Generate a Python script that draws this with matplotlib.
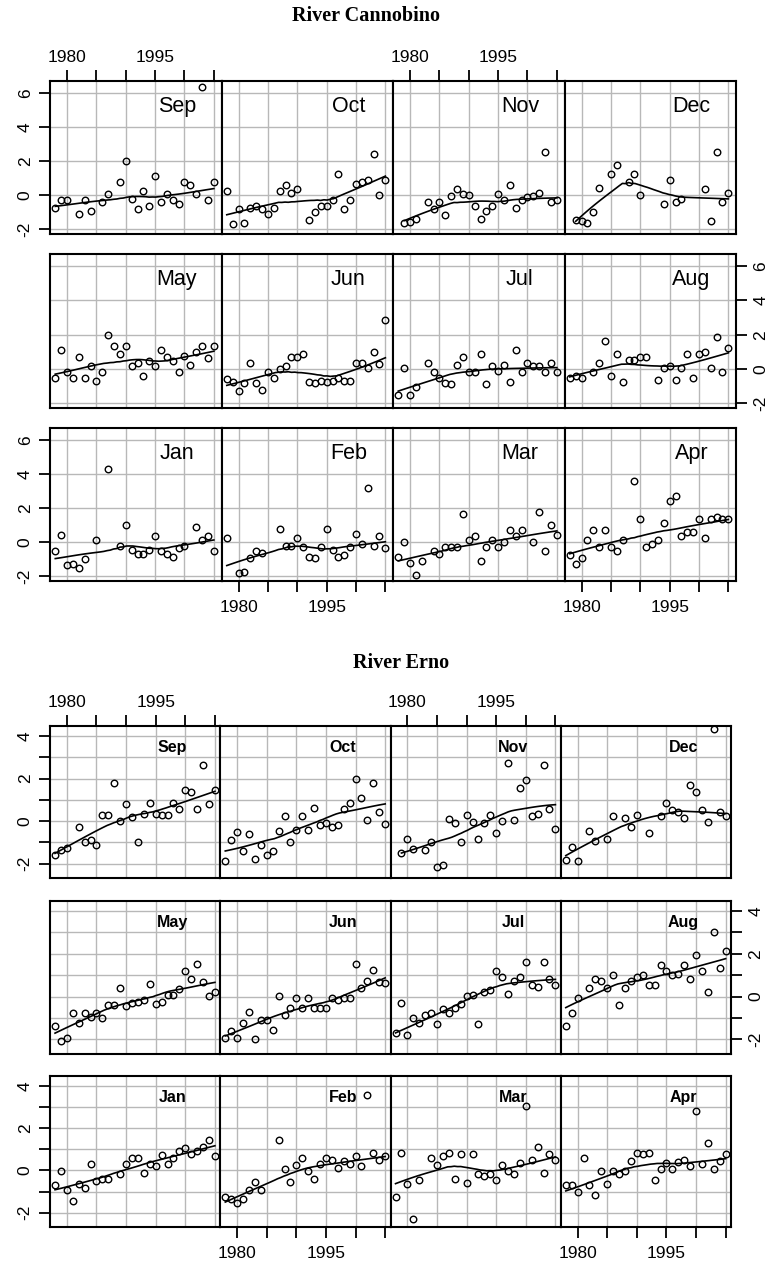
import numpy as np
import matplotlib
matplotlib.use("Agg")
import matplotlib.pyplot as plt

plt.rcParams['font.family'] = ['Liberation Sans', 'DejaVu Sans']

# years shared by every panel; None = no point visible for that year
YEARS = list(range(1978, 2006))
MONTH_ROWS = [["Sep", "Oct", "Nov", "Dec"],
              ["May", "Jun", "Jul", "Aug"],
              ["Jan", "Feb", "Mar", "Apr"]]

# ---- River Cannobino ----
can_sep = [-0.72, -0.3, -0.3, None, -1.07, -0.3, -0.93, None, -0.39, 0.06, None, 0.78, 2.0, -0.23,
           -0.82, 0.23, -0.64, 1.13, -0.41, 0.06, -0.3, -0.49, 0.78, 0.58, 0.06, 6.35, -0.3, 0.78]
can_oct = [0.25, -1.71, -0.83, -1.61, -0.72, -0.62, -0.83, -1.07, -0.72, 0.25, 0.62, 0.14, 0.35, None,
           -1.45, -0.97, -0.64, -0.64, -0.3, 1.22, -0.83, -0.3, 0.68, 0.78, 0.91, 2.43, 0.04, 0.91]
can_nov = [None, -1.65, -1.55, -1.4, None, -0.39, -0.83, -0.39, -1.13, -0.06, 0.39, 0.1, 0.04, -0.62,
           -1.4, -0.95, -0.62, 0.1, -0.3, 0.62, -0.72, -0.3, -0.1, -0.06, 0.14, 2.52, -0.39, -0.3]
can_dec = [None, -1.46, -1.5, -1.6, -0.97, 0.45, None, 1.22, 1.79, None, 0.78, 1.22, 0.04, None,
           None, None, -0.52, 0.91, -0.39, -0.19, None, None, None, 0.35, -1.5, 2.52, -0.39, 0.14]
can_may = [-0.52, 1.11, -0.19, -0.52, 0.68, -0.52, 0.16, -0.68, -0.19, 1.98, 1.32, 0.87, 1.32, 0.16,
           0.35, -0.43, 0.49, 0.19, 1.11, 0.72, 0.49, -0.19, 0.78, 0.25, 1.01, 1.32, 0.64, 1.32]
can_jun = [-0.58, -0.74, -1.3, -0.82, 0.35, -0.82, -1.2, -0.19, -0.52, 0.0, 0.16, 0.68, 0.68, 0.87,
           -0.74, -0.82, -0.68, -0.74, -0.68, -0.54, -0.68, -0.68, 0.35, 0.35, 0.04, 1.01, 0.29, 2.85]
can_jul = [-1.51, 0.04, -1.51, -1.07, None, 0.35, -0.19, -0.52, -0.82, -0.87, 0.23, 0.68, -0.19, -0.19,
           0.87, -0.87, 0.16, -0.14, 0.25, -0.74, 1.11, -0.19, 0.35, 0.16, 0.16, -0.19, 0.35, -0.19]
can_aug = [-0.52, -0.43, -0.52, None, -0.19, 0.35, 1.65, -0.43, 0.87, -0.74, 0.54, 0.54, 0.68, 0.68,
           None, -0.64, 0.04, 0.16, -0.64, 0.04, 0.87, -0.52, 0.87, 0.97, 0.04, 1.84, -0.19, 1.2]
can_jan = [-0.52, 0.45, -1.36, -1.3, -1.53, -0.97, None, 0.12, None, 4.27, None, -0.19, 0.99, -0.43,
           -0.66, -0.66, -0.43, 0.35, -0.52, -0.66, -0.85, -0.33, -0.19, None, 0.87, 0.12, 0.35, -0.52]
can_feb = [0.25, None, -1.83, -1.73, -0.91, -0.52, -0.62, None, None, 0.8, -0.19, -0.19, 0.25, -0.27,
           -0.85, -0.95, -0.27, 0.8, -0.43, -0.85, -0.72, -0.27, 0.49, -0.08, 3.17, -0.19, 0.35, -0.33]
can_mar = [-0.85, 0.02, -1.2, -1.94, -1.07, None, -0.52, -0.66, -0.27, -0.27, -0.27, 1.65, 0.12, 0.35,
           -1.07, -0.27, 0.16, -0.27, 0.0, 0.7, 0.35, 0.7, None, 0.02, 1.75, -0.52, 1.03, 0.45]
can_apr = [-0.72, -1.26, -0.91, 0.16, 0.7, -0.27, 0.7, -0.27, -0.52, 0.16, None, 3.61, 1.36, -0.27,
           -0.08, 0.16, 1.13, 2.43, 2.72, 0.39, 0.6, 0.6, 1.36, 0.25, 1.36, 1.46, 1.36, 1.36]

# ---- River Erno ----
ern_sep = [-1.62, -1.35, -1.26, None, -0.28, -0.99, -0.91, -1.15, 0.27, 0.27, 1.81, -0.02, 0.79, 0.19,
           -0.99, 0.35, 0.85, 0.35, 0.27, 0.27, 0.85, 0.58, 1.48, 1.37, 0.58, 2.63, 0.79, 1.48]
ern_oct = [-1.86, -0.91, -0.52, -1.42, -0.63, -1.78, -1.15, -1.62, -1.42, -0.47, 0.24, -0.99, -0.44, 0.24,
           -0.41, 0.61, -0.17, -0.09, -0.28, -0.17, 0.58, 0.85, 2.0, 1.06, 0.06, 1.81, 0.43, -0.13]
ern_nov = [None, -1.51, -0.83, -1.31, None, -1.35, -0.99, -2.14, -2.05, 0.08, -0.09, -0.99, 0.27, -0.05,
           -0.83, -0.09, 0.27, -0.55, -0.02, 2.71, 0.06, 1.57, 1.92, 0.24, 0.35, 2.63, 0.58, -0.39]
ern_dec = [-1.83, -1.23, -1.86, None, -0.47, -0.94, None, -0.83, 0.24, None, 0.16, -0.28, 0.27, None,
           -0.55, None, 0.24, 0.85, 0.5, 0.43, 0.16, 1.69, 1.37, 0.5, -0.05, 4.31, 0.43, 0.24]
ern_may = [-1.37, -2.07, -1.92, -0.77, -1.24, -0.77, -0.94, -0.77, -1.02, -0.39, -0.39, 0.39, -0.42, -0.3,
           -0.24, -0.14, 0.57, -0.35, -0.24, 0.09, 0.09, 0.36, 1.18, 0.83, 1.54, 0.68, 0.02, 0.2]
ern_jun = [-1.92, -1.6, -1.92, -1.24, -0.74, -1.99, -1.1, -1.1, -1.55, 0.05, -0.85, -0.55, -0.06, -0.55,
           -0.06, -0.55, -0.55, -0.55, -0.06, -0.14, -0.06, -0.06, 1.54, 0.39, 0.72, 1.26, 0.68, 0.64]
ern_jul = [-1.68, -0.3, -1.81, -1.02, -1.24, -0.85, -0.78, -1.29, -0.58, -0.78, -0.55, -0.35, 0.02, 0.08,
           -1.29, 0.24, 0.33, 1.18, 0.91, 0.13, 0.75, 0.91, 1.62, 0.55, 0.47, 1.62, 0.83, 0.55]
ern_aug = [-1.37, -0.77, -0.06, None, 0.39, 0.83, 0.75, 0.39, 1.02, -0.39, 0.39, 0.72, 0.91, 1.02,
           0.55, 0.55, 1.46, 1.22, 0.99, 1.07, 1.46, 0.83, 1.96, 1.18, 0.2, 3.0, 1.35, 2.12]
ern_jan = [-0.71, -0.05, -0.94, -1.45, -0.63, -0.83, 0.31, -0.52, -0.43, -0.43, None, -0.19, 0.31, 0.6,
           0.6, -0.13, 0.31, 0.2, 0.74, 0.31, 0.6, 0.9, 1.06, 0.79, 0.9, 1.1, 1.46, 0.68]
ern_feb = [-1.26, -1.37, -1.53, -1.34, -0.94, -0.55, -0.94, None, None, 1.46, 0.08, -0.55, 0.24, 0.6,
           -0.05, -0.39, 0.31, 0.6, 0.5, 0.13, 0.43, 0.31, 0.68, 0.19, 3.57, 0.83, 0.5, 0.68]
ern_mar = [-1.26, 0.83, -0.66, -2.31, -0.47, None, 0.58, 0.24, 0.68, 0.83, -0.39, 0.76, -0.58, 0.76,
           -0.19, -0.27, -0.19, -0.47, 0.24, -0.05, -0.19, 0.35, 3.04, 0.5, 1.1, -0.11, 0.76, 0.47]
ern_apr = [-0.71, -0.71, -1.02, 0.58, -0.71, -1.18, -0.05, -0.66, -0.05, -0.19, -0.05, 0.43, 0.83, 0.76,
           0.83, -0.47, 0.08, 0.35, 0.08, 0.39, 0.5, 0.2, 2.79, 0.31, 1.29, 0.08, 0.43, 0.76]

cannobino = {"Sep": can_sep, "Oct": can_oct, "Nov": can_nov, "Dec": can_dec,
             "May": can_may, "Jun": can_jun, "Jul": can_jul, "Aug": can_aug,
             "Jan": can_jan, "Feb": can_feb, "Mar": can_mar, "Apr": can_apr}
erno = {"Sep": ern_sep, "Oct": ern_oct, "Nov": ern_nov, "Dec": ern_dec,
        "May": ern_may, "Jun": ern_jun, "Jul": ern_jul, "Aug": ern_aug,
        "Jan": ern_jan, "Feb": ern_feb, "Mar": ern_mar, "Apr": ern_apr}

XTICKS = [1980, 1985, 1990, 1995, 2000, 2005]
XLABELS = ["1980", "", "", "1995", "", ""]

W, H = 778, 1268
GRID = "#b8b8b8"


def loess_line(x, y, span=2/3, iterations=4, n_eval=50):
    # local linear loess with tricube weights, "symmetric" (robust) family
    n = len(x)
    q = max(int(np.floor(n * span)), 3)
    rw = np.ones(n)

    def fit_at(x0, rw):
        d = np.abs(x - x0)
        h = np.sort(d)[q - 1] * 1.0001 + 1e-9
        w = np.clip(1 - (d / h) ** 3, 0, None) ** 3 * rw
        sw = w.sum()
        xm = (w * x).sum() / sw
        ym = (w * y).sum() / sw
        sxx = (w * (x - xm) ** 2).sum()
        b = (w * (x - xm) * (y - ym)).sum() / sxx if sxx > 0 else 0.0
        return ym + b * (x0 - xm)

    for _ in range(iterations - 1):
        fitted = np.array([fit_at(xi, rw) for xi in x])
        res = y - fitted
        s = np.median(np.abs(res))
        u = res / (6 * s) if s > 0 else res * 0
        rw = np.where(np.abs(u) < 1, (1 - u ** 2) ** 2, 0.0)
    xs = np.linspace(x.min(), x.max(), n_eval)
    ys = np.array([fit_at(x0, rw) for x0 in xs])
    return xs, ys


fig = plt.figure(figsize=(W / 100, H / 100), dpi=100)


def draw_lattice(series, cols, rows, xlim, ylim, yticks, ylabels, mpos, mfont):
    years = np.array(YEARS, dtype=float)
    for r, months in enumerate(MONTH_ROWS):
        top, bot = rows[r]
        for c, m in enumerate(months):
            left, right = cols[c], cols[c + 1]
            ax = fig.add_axes([left / W, 1 - bot / H, (right - left) / W, (bot - top) / H])
            vals = np.array(series[m], dtype=float)
            ok = ~np.isnan(vals)
            ax.plot(years[ok], vals[ok], "o", ms=4.7, mfc="none", mec="black", mew=1.0, zorder=3)
            lx, ly = loess_line(years[ok], vals[ok])
            ax.plot(lx, ly, color="black", lw=1.2, zorder=2)

            ax.set_xlim(*xlim)
            ax.set_ylim(*ylim)
            ax.set_xticks(XTICKS)
            ax.set_xticklabels(XLABELS)
            ax.set_yticks(yticks)
            ax.set_yticklabels(ylabels, rotation=90, va="center")
            ax.grid(True, color=GRID, lw=1.0)
            ax.set_axisbelow(True)
            for sp in ax.spines.values():
                sp.set_linewidth(1.5)

            show_top = r == 0 and c in (0, 2)
            show_bot = r == 2 and c in (1, 3)
            show_left = c == 0 and r in (0, 2)
            show_right = c == 3 and r == 1
            ax.tick_params(axis="x", top=show_top, labeltop=show_top,
                           bottom=show_bot, labelbottom=show_bot,
                           length=8, width=1.3, pad=3.5 if show_top else 6, labelsize=12.5)
            ax.tick_params(axis="y", left=show_left, labelleft=show_left,
                           right=show_right, labelright=show_right,
                           length=8, width=1.3, pad=4.5, labelsize=12.5)
            ax.text(mpos[0], mpos[1], m, transform=ax.transAxes, ha="center", va="center", **mfont)


# River Cannobino
fig.text(366 / W, 1 - 16 / H, "River Cannobino", ha="center", va="center",
         family=["Liberation Serif", "DejaVu Serif"], weight="bold", fontsize=14.5)
draw_lattice(cannobino,
             cols=[50, 221.5, 393, 564.5, 736],
             rows=[(81, 234), (254, 408), (428, 581)],
             xlim=(1977.1, 2006.3), ylim=(-2.27, 6.7),
             yticks=[-2, 0, 2, 4, 6], ylabels=["-2", "0", "2", "4", "6"],
             mpos=(0.74, 0.835), mfont=dict(fontsize=15.5))

# River Erno
fig.text(401 / W, 1 - 663 / H, "River Erno", ha="center", va="center",
         family=["Liberation Serif", "DejaVu Serif"], weight="bold", fontsize=14.5)
draw_lattice(erno,
             cols=[50, 220.25, 390.5, 560.75, 731],
             rows=[(726, 878), (901, 1054), (1076, 1227)],
             xlim=(1977.15, 2005.9), ylim=(-2.68, 4.47),
             yticks=[-2, -1, 0, 1, 2, 3, 4], ylabels=["-2", "", "0", "", "2", "", "4"],
             mpos=(0.72, 0.86), mfont=dict(fontsize=11.5, fontweight="bold"))

fig.savefig("out.png", dpi=100)
